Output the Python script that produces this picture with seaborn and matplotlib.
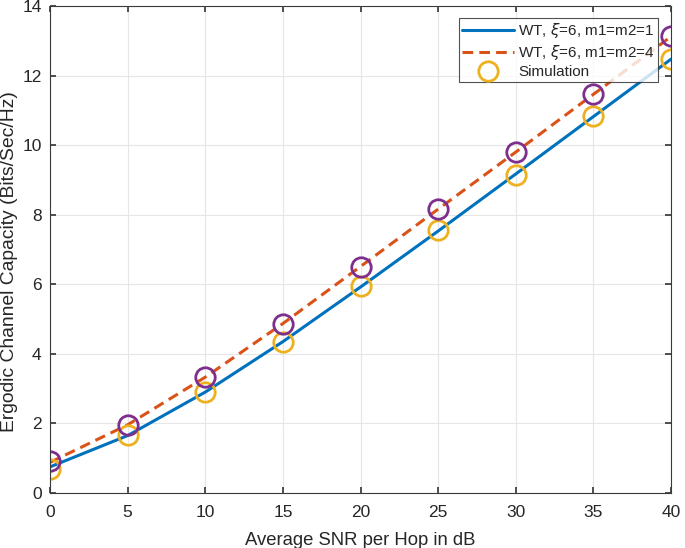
import matplotlib
matplotlib.use("Agg")
import matplotlib.pyplot as plt
import seaborn as sns
import pandas as pd

snr_db = [0, 5, 10, 15, 20, 25, 30, 35, 40]
wt_m1 = [0.75, 1.65, 2.90, 4.35, 5.92, 7.53, 9.17, 10.82, 12.47]
wt_m4 = [0.88, 1.96, 3.33, 4.87, 6.51, 8.16, 9.80, 11.46, 13.12]
sim_m1 = [0.69, 1.67, 2.91, 4.35, 5.94, 7.55, 9.14, 10.84, 12.48]
sim_m4 = [0.92, 1.96, 3.34, 4.87, 6.51, 8.16, 9.80, 11.47, 13.14]

sns.set_theme(style="ticks")
plt.rcParams["font.family"] = ["Liberation Sans", "DejaVu Sans"]

df = pd.DataFrame({"snr": snr_db, "m1": wt_m1, "m4": wt_m4,
                   "s1": sim_m1, "s4": sim_m4})

fig = plt.figure(figsize=(6.85, 5.48), dpi=100)
ax = fig.add_axes([0.073, 0.1004, 0.9066, 0.8887])

sns.lineplot(data=df, x="snr", y="m1", ax=ax, color="#0072BD", linewidth=2.2,
             label=r"WT, $\xi$=6, m1=m2=1")
sns.lineplot(data=df, x="snr", y="m4", ax=ax, color="#D95319", linewidth=2.2,
             dashes=False, label=r"WT, $\xi$=6, m1=m2=4")
ax.lines[-1].set_linestyle((0, (3.5, 2.0)))
sns.lineplot(data=df, x="snr", y="s1", ax=ax, linestyle="none", marker="o",
             markersize=14, markerfacecolor="none", markeredgecolor="#EDB120",
             markeredgewidth=2.0, label="Simulation")
sns.lineplot(data=df, x="snr", y="s4", ax=ax, linestyle="none", marker="o",
             markersize=14, markerfacecolor="none", markeredgecolor="#7E2F8E",
             markeredgewidth=2.0, legend=False)

ax.set_xlim(0, 40)
ax.set_ylim(0, 14)
ax.set_xticks(range(0, 41, 5))
ax.set_yticks(range(0, 15, 2))
ax.grid(True, color="#e6e6e6", linewidth=0.8)
ax.tick_params(direction="in", labelsize=12.5, length=4, top=True, right=True,
               colors="#3a3a3a", labelcolor="#262626")
ax.tick_params(axis="x", pad=9)
ax.tick_params(axis="y", pad=6)
for s in ax.spines.values():
    s.set_color("#3a3a3a")
    s.set_linewidth(0.8)
ax.set_xlabel("Average SNR per Hop in dB", fontsize=13.3, color="#262626",
              labelpad=8)
ax.set_ylabel("Ergodic Channel Capacity (Bits/Sec/Hz)", fontsize=13.9,
              color="#262626")
ax.yaxis.set_label_coords(-0.052, 0.475)

leg = ax.legend(loc="upper right", bbox_to_anchor=(0.979, 0.975), fontsize=11,
                frameon=True, fancybox=False, edgecolor="#262626",
                handlelength=3.4, borderpad=0.2, labelspacing=0.2,
                handletextpad=0.3, borderaxespad=0)
leg.get_frame().set_linewidth(0.8)

fig.savefig("out.png", dpi=100)
